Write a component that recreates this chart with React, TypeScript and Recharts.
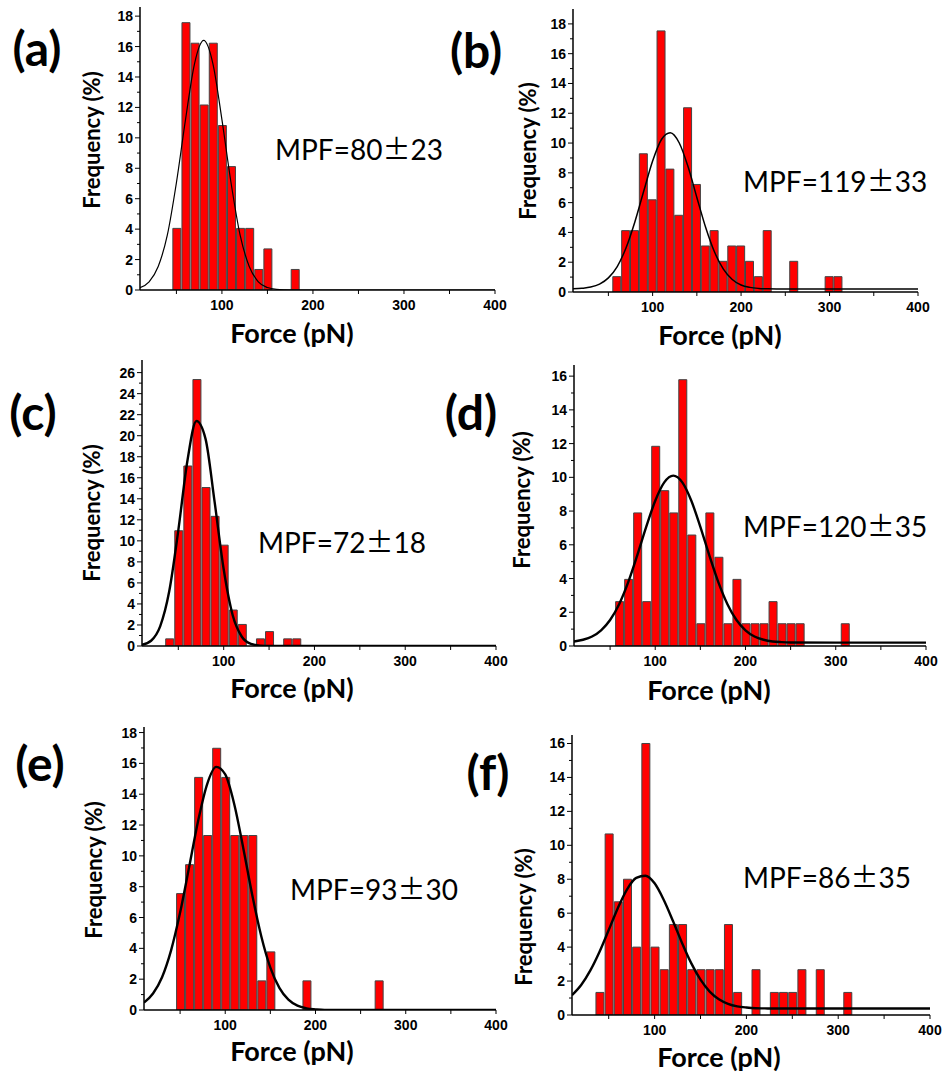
import React from "react";
import { ComposedChart, Bar, Line, XAxis, YAxis } from "recharts";

// x positions (pN) where the fitted curves are sampled
const FIT_X = [
  10, 20, 30, 40, 50, 60, 70, 80, 90, 100, 110, 120, 130, 140, 150, 160, 170,
  180, 190, 200, 210, 220, 230, 240, 250, 300, 350, 400,
];

// (a)
const aBins = [50, 60, 70, 80, 90, 100, 110, 120, 130, 140, 150, 180];
const aFreq = [4.05, 17.57, 16.22, 12.16, 16.22, 10.81, 8.11, 4.05, 4.05, 1.35, 2.7, 1.35];
const aFit = [
  0.16, 0.54, 1.55, 3.6, 7.05, 11.2, 14.9, 16.4, 14.9, 11.2, 7.05, 3.6, 1.55,
  0.54, 0.16, 0.04, 0.01, 0, 0, 0, 0, 0, 0, 0, 0, 0, 0, 0,
];

// (b)
const bBins = [
  60, 70, 80, 90, 100, 110, 120, 130, 140, 150, 160, 170, 180, 190, 200, 210,
  220, 230, 260, 300, 310,
];
const bFreq = [
  1.03, 4.12, 4.12, 9.28, 6.19, 17.53, 8.25, 5.15, 12.37, 7.22, 3.09, 4.12,
  2.06, 3.09, 3.09, 2.06, 1.03, 4.12, 2.06, 1.03, 1.03,
];
const bFit = [
  0.21, 0.25, 0.33, 0.53, 0.95, 1.71, 2.97, 4.72, 6.78, 8.79, 10.24, 10.69,
  10.02, 8.42, 6.35, 4.33, 2.68, 1.53, 0.84, 0.47, 0.31, 0.24, 0.21, 0.2, 0.2,
  0.2, 0.2, 0.2,
];

// (c)
const cBins = [40, 50, 60, 70, 80, 90, 100, 110, 120, 140, 150, 170, 180];
const cFreq = [0.68, 10.96, 17.12, 25.34, 15.07, 12.33, 9.59, 3.42, 2.05, 0.68, 1.37, 0.68, 0.68];
const cFit = [
  0.11, 0.5, 1.87, 5.2, 11.0, 17.6, 21.4, 19.7, 13.7, 7.3, 2.9, 0.88, 0.2,
  0.04, 0, 0, 0, 0, 0, 0, 0, 0, 0, 0, 0, 0, 0, 0,
];

// (d)
const dBins = [
  60, 70, 80, 90, 100, 110, 120, 130, 140, 150, 160, 170, 180, 190, 200, 210,
  220, 230, 240, 250, 260, 310,
];
const dFreq = [
  2.63, 3.95, 7.89, 2.63, 11.84, 9.21, 7.89, 15.79, 6.58, 1.32, 7.89, 5.26,
  1.32, 3.95, 1.32, 1.32, 1.32, 2.63, 1.32, 1.32, 1.32, 1.32,
];
const dFit = [
  0.27, 0.37, 0.56, 0.93, 1.54, 2.48, 3.77, 5.36, 7.06, 8.61, 9.7, 10.1, 9.7,
  8.61, 7.06, 5.36, 3.77, 2.48, 1.54, 0.93, 0.56, 0.37, 0.27, 0.23, 0.21, 0.2,
  0.2, 0.2,
];

// (e)
const eBins = [50, 60, 70, 80, 90, 100, 110, 120, 130, 140, 150, 190, 270];
const eFreq = [7.55, 9.43, 15.09, 11.32, 16.98, 15.09, 11.32, 11.32, 11.32, 1.89, 3.77, 1.89, 1.89];
const eFit = [
  0.48, 1.07, 2.13, 3.87, 6.32, 9.27, 12.28, 14.66, 15.77, 15.28, 13.35, 10.5,
  7.45, 4.77, 2.75, 1.44, 0.67, 0.28, 0.11, 0.04, 0, 0, 0, 0, 0, 0, 0, 0,
];

// (f)
const fBins = [
  40, 50, 60, 70, 80, 90, 100, 110, 120, 130, 140, 150, 160, 170, 180, 190,
  210, 230, 240, 250, 260, 280, 310,
];
const fFreq = [
  1.33, 10.67, 6.67, 8.0, 4.0, 16.0, 4.0, 2.67, 5.33, 5.33, 2.67, 2.67, 2.67,
  2.67, 5.33, 1.33, 2.67, 1.33, 1.33, 1.33, 2.67, 2.67, 1.33,
];
const fFit = [
  1.17, 1.77, 2.63, 3.73, 5.01, 6.31, 7.41, 8.08, 8.21, 7.76, 6.78, 5.54, 4.23,
  3.04, 2.08, 1.38, 0.93, 0.66, 0.51, 0.44, 0.4, 0.39, 0.38, 0.38, 0.38, 0.38,
  0.38, 0.38,
];

const X_TICKS = [50, 100, 150, 200, 250, 300, 350, 400];

function buildRows(bins: number[], freq: number[], fit: number[]) {
  const map = new Map<number, any>();
  bins.forEach((b, i) => map.set(b, { x: b, freq: freq[i] }));
  FIT_X.forEach((fx, i) => {
    const r = map.get(fx) || { x: fx };
    r.fit = fit[i];
    map.set(fx, r);
  });
  return [...map.values()].sort((p, q) => p.x - q.x);
}

const tickFont = {
  fontFamily: "'Liberation Sans', Arial, sans-serif",
  fontWeight: 700,
  fontSize: 14,
};

const YTick = (props: any) => {
  const { x, y, payload } = props;
  const v = payload.value;
  const major = v % 2 === 0;
  return (
    <g>
      <line x1={x} x2={x - (major ? 5 : 3)} y1={y} y2={y} stroke="#000" strokeWidth={1} />
      {major && (
        <text x={x - 7} y={y} dy={5} textAnchor="end" fill="#000" style={tickFont}>
          {v}
        </text>
      )}
    </g>
  );
};

const XTick = (props: any) => {
  const { x, y, payload } = props;
  const v = payload.value;
  const major = v % 100 === 0;
  return (
    <g>
      <line x1={x} x2={x} y1={y} y2={y + 4} stroke="#000" strokeWidth={1} />
      {major && (
        <text x={x} y={y + 20} textAnchor="middle" fill="#000" style={tickFont}>
          {v}
        </text>
      )}
    </g>
  );
};

type PanelProps = {
  rows: any[];
  x0: number;
  x1: number;
  y0: number;
  y1: number;
  yMax: number;
  yTop: number;
  lineWidth: number;
};

const Panel = ({ rows, x0, x1, y0, y1, yMax, yTop, lineWidth }: PanelProps) => {
  const left = 50;
  const top = 10;
  const right = 22;
  const w = x1 - x0 + left + right;
  const h = y1 - y0 + top + 40;
  const yTicks: number[] = [];
  for (let v = 0; v <= yTop; v++) yTicks.push(v);
  const barSize = Math.round(((x1 - x0) / 390) * 10 * 0.86);
  return (
    <div style={{ position: "absolute", left: x0 - left, top: y0 - top }}>
      <ComposedChart
        width={w}
        height={h}
        data={rows}
        margin={{ top, right, bottom: 0, left: 10 }}
      >
        <XAxis
          dataKey="x"
          type="number"
          domain={[10, 400]}
          allowDataOverflow
          ticks={X_TICKS}
          interval={0}
          height={40}
          tickSize={0}
          tickMargin={0}
          tickLine={false}
          axisLine={{ stroke: "#000", strokeWidth: 1.5 }}
          tick={(p: any) => <XTick {...p} />}
        />
        <YAxis
          type="number"
          domain={[0, yMax]}
          allowDataOverflow
          ticks={yTicks}
          interval={0}
          width={40}
          tickSize={0}
          tickMargin={0}
          tickLine={false}
          axisLine={{ stroke: "#000", strokeWidth: 1.5 }}
          tick={(p: any) => <YTick {...p} />}
        />
        <Bar
          dataKey="freq"
          fill="#ff0000"
          stroke="#444"
          strokeWidth={1}
          barSize={barSize}
          isAnimationActive={false}
        />
        <Line
          dataKey="fit"
          type="monotone"
          stroke="#000"
          strokeWidth={lineWidth}
          dot={false}
          connectNulls
          isAnimationActive={false}
        />
      </ComposedChart>
    </div>
  );
};

const sans = "Lato, 'Open Sans', sans-serif";

const Txt = ({ x, y, children, size, bold, rotate, anchor }: any) => (
  <div
    style={{
      position: "absolute",
      left: x,
      top: y,
      transform: `translate(${anchor === "left" ? "0" : "-50%"}, -50%)${rotate ? " rotate(-90deg)" : ""}`,
      fontFamily: sans,
      fontSize: size,
      fontWeight: bold ? 700 : 400,
      whiteSpace: "nowrap",
      lineHeight: 1,
      color: "#000",
    }}
  >
    {children}
  </div>
);

const Mpf = ({ x, y, a, b }: any) => (
  <Txt x={x} y={y} size={28} anchor="left">
    MPF={a}
    <span style={{ fontFamily: "'Noto Sans CJK SC', sans-serif" }}>±</span>
    {b}
  </Txt>
);

const panels = [
  { key: "a", rows: buildRows(aBins, aFreq, aFit), x0: 140, x1: 495, y0: 7, y1: 290, yMax: 18.6, yTop: 18, lw: 1.2 },
  { key: "b", rows: buildRows(bBins, bFreq, bFit), x0: 573, x1: 918, y0: 9, y1: 292, yMax: 19, yTop: 18, lw: 1.5 },
  { key: "c", rows: buildRows(cBins, cFreq, cFit), x0: 142, x1: 496, y0: 360, y1: 646, yMax: 27.2, yTop: 26, lw: 2.4 },
  { key: "d", rows: buildRows(dBins, dFreq, dFit), x0: 574, x1: 926, y0: 365, y1: 646, yMax: 16.66, yTop: 16, lw: 2.4 },
  { key: "e", rows: buildRows(eBins, eFreq, eFit), x0: 144, x1: 496, y0: 727, y1: 1010, yMax: 18.36, yTop: 18, lw: 2.4 },
  { key: "f", rows: buildRows(fBins, fFreq, fFit), x0: 572, x1: 930, y0: 735, y1: 1015, yMax: 16.5, yTop: 16, lw: 2.4 },
];

export default function App() {
  return (
    <div
      style={{
        position: "absolute",
        left: 0,
        top: 0,
        width: 946,
        height: 1077,
        background: "#fff",
        overflow: "hidden",
      }}
    >
      {panels.map((p) => (
        <Panel
          key={p.key}
          rows={p.rows}
          x0={p.x0}
          x1={p.x1}
          y0={p.y0}
          y1={p.y1}
          yMax={p.yMax}
          yTop={p.yTop}
          lineWidth={p.lw}
        />
      ))}

      <Txt x={37} y={48} size={48} bold>(a)</Txt>
      <Txt x={476} y={50} size={48} bold>(b)</Txt>
      <Txt x={33} y={412} size={48} bold>(c)</Txt>
      <Txt x={471} y={412} size={48} bold>(d)</Txt>
      <Txt x={40} y={763} size={48} bold>(e)</Txt>
      <Txt x={488} y={772} size={48} bold>(f)</Txt>

      <Txt x={92} y={140} size={22} bold rotate>Frequency (%)</Txt>
      <Txt x={528} y={151} size={22} bold rotate>Frequency (%)</Txt>
      <Txt x={92} y={513} size={22} bold rotate>Frequency (%)</Txt>
      <Txt x={522} y={500} size={22} bold rotate>Frequency (%)</Txt>
      <Txt x={94} y={870} size={22} bold rotate>Frequency (%)</Txt>
      <Txt x={524} y={917} size={22} bold rotate>Frequency (%)</Txt>

      <Txt x={292} y={332} size={27} bold>Force (pN)</Txt>
      <Txt x={720} y={334} size={27} bold>Force (pN)</Txt>
      <Txt x={292} y={687} size={27} bold>Force (pN)</Txt>
      <Txt x={709} y={689} size={27} bold>Force (pN)</Txt>
      <Txt x={292} y={1050} size={27} bold>Force (pN)</Txt>
      <Txt x={719} y={1056} size={27} bold>Force (pN)</Txt>

      <Mpf x={275} y={148} a="80" b="23" />
      <Mpf x={743} y={180} a="119" b="33" />
      <Mpf x={258} y={541} a="72" b="18" />
      <Mpf x={743} y={525} a="120" b="35" />
      <Mpf x={290} y={888} a="93" b="30" />
      <Mpf x={743} y={876} a="86" b="35" />
    </div>
  );
}
